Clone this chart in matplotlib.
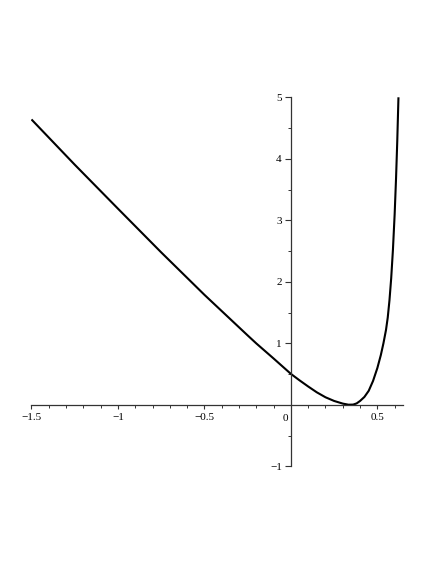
import matplotlib
matplotlib.use("Agg")
import matplotlib.pyplot as plt
from matplotlib.ticker import MultipleLocator, FixedLocator

plt.rcParams['font.family'] = ['Liberation Serif', 'DejaVu Serif']

# curve values
x_vals = [-1.5, -1.25, -1.0, -0.75, -0.5, -0.25, -0.2, -0.1, 0.0, 0.05, 0.1,
          0.15, 0.2, 0.25, 0.3, 0.333, 0.36, 0.38, 0.4, 0.425, 0.45, 0.475,
          0.5, 0.52, 0.535, 0.55, 0.56, 0.57, 0.58, 0.59, 0.6, 0.608, 0.615,
          0.622]
y_vals = [4.64, 3.905, 3.19, 2.48, 1.79, 1.13, 1.0, 0.755, 0.505, 0.40, 0.30,
          0.205, 0.125, 0.065, 0.022, 0.004, 0.006, 0.025, 0.065, 0.13, 0.23,
          0.39, 0.60, 0.81, 1.0, 1.22, 1.42, 1.70, 2.06, 2.52, 3.10, 3.68,
          4.28, 5.0]

x_major = [-1.5, -1.0, -0.5, 0.5]
x_major_labels = ["\u22121.5", "\u22121", "\u22120.5", "0.5"]
y_major = [-1, 1, 2, 3, 4, 5]
y_major_labels = ["\u22121", "1", "2", "3", "4", "5"]

fig = plt.figure(figsize=(4.36, 5.64), dpi=100)
ax = fig.add_axes([0.0722, 0.1729, 0.8528, 0.6546])

ax.plot(x_vals, y_vals, color='black', lw=1.5, solid_joinstyle='round',
        solid_capstyle='butt', clip_on=True)

ax.set_xlim(-1.5, 0.65)
ax.set_ylim(-1, 5)

for s in ['top', 'right']:
    ax.spines[s].set_visible(False)
ax.spines['left'].set_position(('data', 0))
ax.spines['bottom'].set_position(('data', 0))
for s in ['left', 'bottom']:
    ax.spines[s].set_color('#333333')
    ax.spines[s].set_linewidth(0.9)

ax.xaxis.set_major_locator(FixedLocator(x_major))
ax.set_xticklabels(x_major_labels)
ax.xaxis.set_minor_locator(MultipleLocator(0.1))
ax.yaxis.set_major_locator(FixedLocator(y_major))
ax.set_yticklabels(y_major_labels)
ax.yaxis.set_minor_locator(MultipleLocator(0.5))

ax.tick_params(axis='x', which='major', direction='out', length=3.1, width=0.8,
               color='#333333', labelsize=8, pad=3)
ax.tick_params(axis='x', which='minor', direction='out', length=2.0, width=0.7,
               color='#333333')
ax.tick_params(axis='y', which='major', direction='out', length=4.0, width=0.8,
               color='#333333', labelsize=8, pad=2.5)
ax.tick_params(axis='y', which='minor', direction='out', length=2.3, width=0.7,
               color='#333333')

ax.annotate("0", xy=(0, 0), xycoords='data', xytext=(-4.3, -6.2),
            textcoords='offset points', ha='center', va='top', fontsize=8)

ax.patch.set_visible(False)
fig.savefig("out.png", dpi=100)
